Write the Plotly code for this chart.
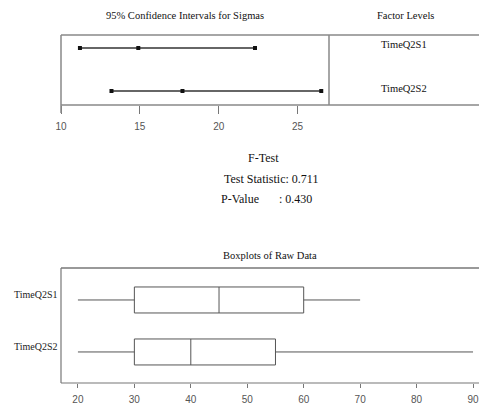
import plotly.graph_objects as go

W, H = 479, 404

# ---- data ----
groups = ["TimeQ2S1", "TimeQ2S2"]
ci_lower = [11.2, 13.2]
ci_est = [14.9, 17.7]
ci_upper = [22.3, 26.5]

box_min = [20, 20]
box_q1 = [30, 30]
box_median = [45, 40]
box_q3 = [60, 55]
box_max = [70, 90]

ci_ticks = [10, 15, 20, 25]
box_ticks = [20, 30, 40, 50, 60, 70, 80, 90]

f_stat = 0.711
p_value = 0.430

SERIF = "Liberation Serif, Times New Roman, serif"
NARROW = "Liberation Sans Narrow, Arial Narrow, Liberation Sans, sans-serif"

def px(x):
    return x / W

def py(y):
    return 1 - y / H

fig = go.Figure()

for g, lo, est, hi in zip(groups, ci_lower, ci_est, ci_upper):
    fig.add_trace(go.Scatter(
        x=[lo, est, hi], y=[g, g, g], mode="lines+markers",
        line=dict(color="#333", width=1.5),
        marker=dict(symbol="square", size=4, color="#111"),
        xaxis="x", yaxis="y", showlegend=False, hoverinfo="skip"))

for g, mn, q1, md, q3, mx in zip(groups, box_min, box_q1, box_median, box_q3, box_max):
    fig.add_trace(go.Box(
        y=[g], q1=[q1], median=[md], q3=[q3], lowerfence=[mn], upperfence=[mx],
        orientation="h", xaxis="x2", yaxis="y2", width=0.5,
        fillcolor="rgba(0,0,0,0)", line=dict(color="#555", width=1),
        whiskerwidth=0, showlegend=False, hoverinfo="skip", boxpoints=False))

axis_tick_font = dict(family=NARROW, size=10, color="#555")

fig.update_layout(
    width=W, height=H, margin=dict(l=0, r=0, t=0, b=0, pad=0),
    paper_bgcolor="white", plot_bgcolor="white",
    hovermode=False,
    xaxis=dict(domain=[px(61), 1], range=[10, 36.5], anchor="y",
               tickmode="array", tickvals=ci_ticks, ticks="outside",
               ticklen=8, tickcolor="#777", tickwidth=1,
               showline=False, showgrid=False, zeroline=False,
               ticklabeloverflow="allow", automargin=False,
               ticklabelstandoff=4, tickfont=axis_tick_font),
    yaxis=dict(domain=[py(105), py(35)], type="category",
               categoryorder="array", categoryarray=groups[::-1],
               range=[-0.326, 1.303], showticklabels=False, ticks="",
               showline=False, showgrid=False, zeroline=False, automargin=False),
    xaxis2=dict(domain=[px(61), 1], range=[17, 91.06], anchor="y2",
                tickmode="array", tickvals=box_ticks, ticks="outside",
                ticklen=4, tickcolor="#777", tickwidth=1,
                showline=False, showgrid=False, zeroline=False,
                ticklabeloverflow="allow", automargin=False,
                ticklabelstandoff=3, tickfont=axis_tick_font),
    yaxis2=dict(domain=[py(383), py(268)], type="category",
                categoryorder="array", categoryarray=groups[::-1],
                range=[-0.597, 1.615], showticklabels=False, ticks="",
                showline=False, showgrid=False, zeroline=False, automargin=False),
)

shapes = []
def hline(y, x0, x1, color="#888", width=1.5):
    shapes.append(dict(type="line", xref="paper", yref="paper",
                       x0=px(x0), x1=px(x1), y0=py(y), y1=py(y),
                       line=dict(color=color, width=width)))
def vline(x, y0, y1, color="#888", width=1.5):
    shapes.append(dict(type="line", xref="paper", yref="paper",
                       x0=px(x), x1=px(x), y0=py(y0), y1=py(y1),
                       line=dict(color=color, width=width)))

hline(35, 61, 479)
hline(105, 61, 479)
vline(61, 35, 113)
vline(329, 35, 105)
hline(268, 61, 479, color="#999", width=2)
hline(383, 61, 479, color="#777", width=1.2)
vline(61, 268, 383, color="#777", width=1.2)
fig.update_layout(shapes=shapes)

ann = []
def text(x, y, s, size=11, anchor="center", color="#111"):
    ann.append(dict(x=px(x), y=py(y), xref="paper", yref="paper", text=s,
                    showarrow=False, xanchor=anchor, yanchor="middle",
                    font=dict(family=SERIF, size=size, color=color)))

text(185, 15, "95% Confidence Intervals for Sigmas", size=10.5)
text(405, 15, "Factor Levels", size=10.5)
text(404, 45, groups[0], size=10.5)
text(404, 89, groups[1], size=10.5)
text(263, 158, "F-Test", size=12)
text(222, 179, f"Test Statistic: {f_stat:.3f}", size=12, anchor="left")
text(219, 199, "P-Value", size=12, anchor="left")
text(277, 199, f": {p_value:.3f}", size=12, anchor="left")
text(270, 255, "Boxplots of Raw Data", size=10.5)
fig.update_layout(annotations=ann)

for g in groups:
    fig.add_annotation(x=px(12), y=g, xref="paper", yref="y2", text=g,
                       showarrow=False, xanchor="left", yanchor="middle",
                       yshift=5, font=dict(family=SERIF, size=10, color="#222"))

fig.write_html("out.html", config={"displayModeBar": False},
               post_script="document.body.style.margin='0';document.body.style.overflow='hidden';")
